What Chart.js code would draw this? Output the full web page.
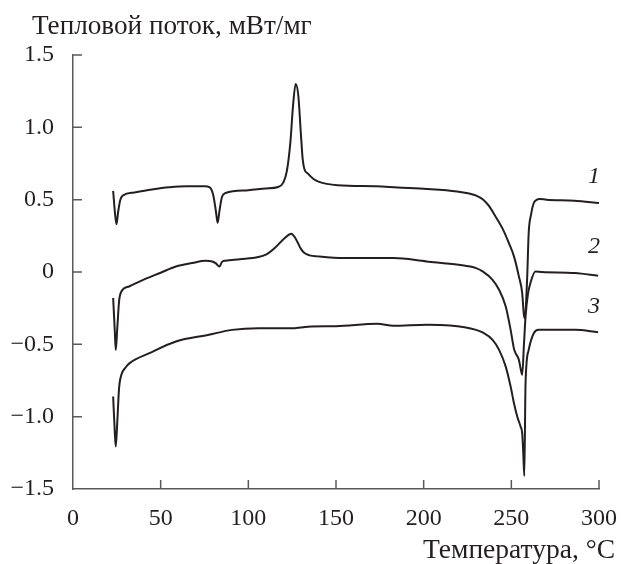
<!DOCTYPE html>
<html>
<head>
<meta charset="utf-8">
<script src="https://cdn.jsdelivr.net/npm/chart.js@4.4.0/dist/chart.umd.min.js"></script>
<style>
    html, body { margin: 0; padding: 0; background: #fff; }
    #wrap { width: 624px; height: 564px; position: relative; }
</style>
</head>
<body>
<div id="wrap"><canvas id="dscChart" width="624" height="564"></canvas></div>
<script>
// curve 1
var temp1 = [22.9, 24.0, 24.8, 25.8, 27.0, 28.6, 35, 45, 55, 65, 75, 78, 80, 81.5, 82.5, 83.5, 85, 87, 100, 110, 117, 120, 122, 124, 125.5, 127, 128.5, 130, 131, 132, 134, 137, 140, 151, 173, 185, 202, 219, 226, 230, 234, 237, 241, 245, 248.6, 251.5, 254.3, 256.2, 257.1, 257.7, 259, 259.9, 261.3, 262.8, 264.6, 266, 270, 286, 300];
var flow1 = [0.56, 0.40, 0.33, 0.42, 0.50, 0.53, 0.55, 0.57, 0.585, 0.592, 0.592, 0.585, 0.53, 0.42, 0.34, 0.42, 0.52, 0.546, 0.565, 0.578, 0.588, 0.62, 0.70, 0.90, 1.15, 1.30, 1.22, 0.95, 0.78, 0.71, 0.68, 0.645, 0.625, 0.60, 0.592, 0.584, 0.574, 0.557, 0.542, 0.528, 0.50, 0.46, 0.384, 0.30, 0.20, 0.108, -0.03, -0.146, -0.29, -0.32, -0.05, 0.27, 0.40, 0.477, 0.50, 0.505, 0.50, 0.493, 0.477];

// curve 2
var temp2 = [22.9, 23.8, 24.4, 25.2, 26.3, 27.6, 32, 40, 50, 58.7, 68, 75.6, 79.4, 81.5, 83.5, 85, 86.9, 95, 105.7, 110, 115.1, 120.8, 124.5, 126.5, 128.3, 130, 132, 135, 139.6, 154.6, 182.8, 201.6, 220, 229.9, 233.6, 239.3, 243, 246.8, 249.6, 251.5, 252.4, 254.3, 255.5, 256.2, 257.2, 258.1, 259.5, 260.9, 263.7, 267.5, 286.3, 299.5];
var flow2 = [-0.18, -0.40, -0.54, -0.40, -0.20, -0.135, -0.10, -0.054, -0.005, 0.038, 0.062, 0.078, 0.073, 0.06, 0.038, 0.07, 0.078, 0.088, 0.103, 0.12, 0.166, 0.235, 0.265, 0.24, 0.20, 0.16, 0.131, 0.115, 0.108, 0.096, 0.096, 0.073, 0.05, 0.027, 0.004, -0.054, -0.123, -0.238, -0.40, -0.53, -0.56, -0.607, -0.68, -0.711, -0.50, -0.31, -0.15, -0.076, 0.004, 0.0, -0.007, -0.026];

// curve 3
var temp3 = [22.9, 23.8, 24.4, 25.2, 26.3, 27.6, 30, 32.3, 43.6, 58.7, 77.5, 90.6, 105.7, 126.4, 135.8, 150, 173.4, 182.8, 201.6, 215, 229.9, 233.6, 239.3, 243, 246.8, 249.6, 251.5, 253.4, 255.3, 256.2, 256.8, 257.4, 258.1, 259.9, 262.8, 265.6, 286.3, 299.5];
var flow3 = [-0.861, -1.10, -1.207, -1.05, -0.80, -0.711, -0.66, -0.630, -0.561, -0.48, -0.434, -0.40, -0.388, -0.388, -0.377, -0.375, -0.358, -0.372, -0.365, -0.37, -0.40, -0.418, -0.469, -0.538, -0.654, -0.792, -0.907, -1.00, -1.069, -1.115, -1.25, -1.41, -0.77, -0.538, -0.423, -0.40, -0.40, -0.416];

var curveLabels = ['1', '2', '3'];
var labelTemp = [300, 300, 300];
var labelFlow = [0.66, 0.175, -0.24];

var xTicks = [0, 50, 100, 150, 200, 250, 300];
var yTicks = [-1.5, -1.0, -0.5, 0, 0.5, 1.0, 1.5];

var yTitle = 'Тепловой поток, мВт/мг';
var xTitle = 'Температура, °C';

var inkColor = '#231f20';
var axisColor = '#5a5a5a';
var serif = "'Liberation Serif', 'Times New Roman', serif";

function toPoints(xs, ys) {
    return xs.map(function (x, i) { return { x: x, y: ys[i] }; });
}

function formatY(v) {
    if (v === 0) return '0';
    return v.toFixed(1).replace('-', '\u2212');
}

// pick a font size so the text spans the given width
function fitFont(ctx, text, width) {
    ctx.font = '20px ' + serif;
    var w = ctx.measureText(text).width;
    return Math.round(20 * width / w * 10) / 10;
}

// ticks point inward, titles sit outside the plot
var decorPlugin = {
    id: 'decor',
    afterDraw: function (chart) {
        var ctx = chart.ctx;
        var xs = chart.scales.x;
        var ys = chart.scales.y;
        var area = chart.chartArea;

        ctx.save();
        ctx.strokeStyle = axisColor;
        ctx.lineWidth = 1.5;
        ctx.beginPath();
        xTicks.forEach(function (t) {
            if (t === 0) return;
            var px = xs.getPixelForValue(t);
            ctx.moveTo(px, area.bottom);
            ctx.lineTo(px, area.bottom - 9);
        });
        yTicks.forEach(function (t) {
            if (t === -1.5) return;
            var py = ys.getPixelForValue(t);
            ctx.moveTo(area.left, py);
            ctx.lineTo(area.left + 9, py);
        });
        ctx.stroke();

        ctx.fillStyle = inkColor;
        ctx.textBaseline = 'alphabetic';
        var ySize = fitFont(ctx, yTitle, 280);
        ctx.font = ySize + 'px ' + serif;
        ctx.textAlign = 'left';
        ctx.fillText(yTitle, 32, 34);
        var xSize = fitFont(ctx, xTitle, 192);
        ctx.font = xSize + 'px ' + serif;
        ctx.textAlign = 'right';
        ctx.fillText(xTitle, 615, 558);

        ctx.font = 'italic 24px ' + serif;
        ctx.textAlign = 'center';
        ctx.textBaseline = 'middle';
        curveLabels.forEach(function (lbl, i) {
            ctx.fillText(lbl, xs.getPixelForValue(labelTemp[i]) - 5, ys.getPixelForValue(labelFlow[i]));
        });
        ctx.restore();
    }
};

function makeSet(xs, ys) {
    return {
        data: toPoints(xs, ys),
        showLine: true,
        borderColor: inkColor,
        borderWidth: 2,
        pointRadius: 0,
        cubicInterpolationMode: 'monotone',
        fill: false
    };
}

var ctx = document.getElementById('dscChart');
var dscChart = new Chart(ctx, {
    type: 'scatter',
    data: {
        datasets: [
            makeSet(temp1, flow1),
            makeSet(temp2, flow2),
            makeSet(temp3, flow3)
        ]
    },
    options: {
        responsive: false,
        animation: false,
        events: [],
        layout: {
            padding: { top: 55, right: 20, bottom: 0, left: 0 }
        },
        plugins: {
            legend: { display: false },
            tooltip: { enabled: false }
        },
        scales: {
            x: {
                type: 'linear',
                min: 0,
                max: 300,
                afterBuildTicks: function (scale) {
                    scale.ticks = xTicks.map(function (v) { return { value: v }; });
                },
                ticks: {
                    color: inkColor,
                    font: { family: serif, size: 24 },
                    padding: 7,
                    maxRotation: 0
                },
                grid: { display: false },
                border: { display: true, color: axisColor, width: 1.5 },
                afterFit: function (scale) { scale.height = 75; }
            },
            y: {
                type: 'linear',
                min: -1.5,
                max: 1.5,
                afterBuildTicks: function (scale) {
                    scale.ticks = yTicks.map(function (v) { return { value: v }; });
                },
                ticks: {
                    color: inkColor,
                    font: { family: serif, size: 24 },
                    padding: 11,
                    callback: function (v) { return formatY(v); }
                },
                grid: { display: false },
                border: { display: true, color: axisColor, width: 1.5 },
                afterFit: function (scale) { scale.width = 73; }
            }
        }
    },
    plugins: [decorPlugin]
});
</script>
</body>
</html>
